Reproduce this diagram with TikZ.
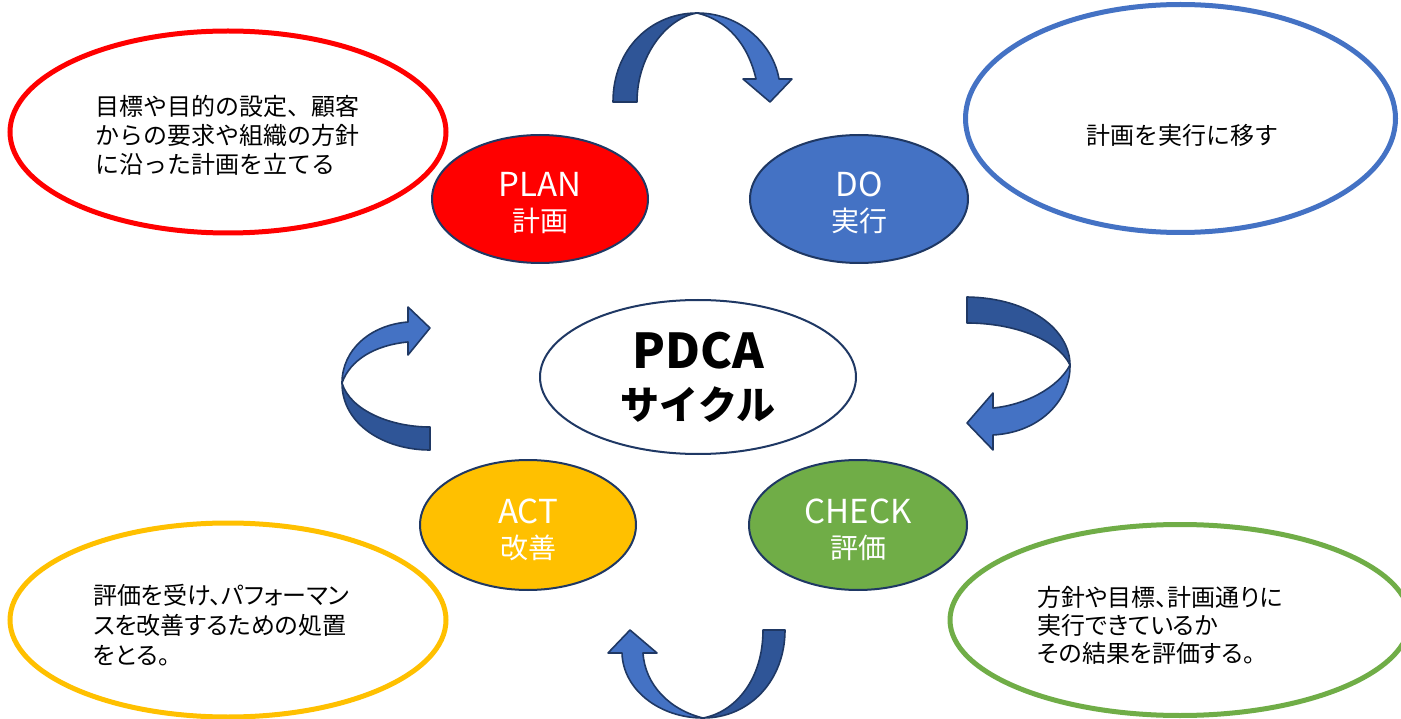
\documentclass[tikz,border=0pt]{standalone}
\usepackage{fontspec}
\setmainfont{Noto Sans CJK JP}
\newfontfamily\jpp[RawFeature=+palt]{Noto Sans CJK JP}
\usetikzlibrary{shapes.geometric}
\definecolor{navy}{HTML}{1F3864}
\definecolor{pblue}{HTML}{4472C4}
\definecolor{pdark}{HTML}{2F5597}
\definecolor{pyellow}{HTML}{FFC000}
\definecolor{pgreen}{HTML}{70AD47}
\definecolor{pred}{HTML}{FF0000}
\tikzset{
  descring/.style={ellipse, draw=#1, line width=5, fill=white, inner sep=0},
  stage/.style={ellipse, draw=navy, line width=2, fill=#1, inner sep=0},
  stagelabel/.style={text=white, align=center, inner sep=0, font=\fontsize{28}{35}\selectfont},
  desctext/.style={align=left, inner sep=0, anchor=west, font=\fontsize{24}{29}\selectfont},
  darkband/.style={fill=pdark, draw=navy, line width=1.6, line join=round},
  lightband/.style={fill=pblue, draw=navy, line width=1.6, line join=round},
}
\newcommand{\latinline}[1]{{\fontsize{33}{35}\selectfont #1}}
\newcommand{\cjkline}[1]{{\fontsize{28}{35}\selectfont #1}}
\begin{document}
\begin{tikzpicture}[x=1pt,y=-1pt]
\useasboundingbox (0,0) rectangle (1401,719);
% description ellipses
\node[descring=pred, minimum width=436, minimum height=202] (plandesc) at (228,132) {};
\node[descring=pblue, minimum width=430, minimum height=228] (dodesc) at (1180.5,118.5) {};
\node[descring=pyellow, minimum width=436, minimum height=194] (actdesc) at (228,620) {};
\node[descring=pgreen, minimum width=460, minimum height=191] (checkdesc) at (1180,620) {};
% description texts
\node[desctext] (plantext) at (95,135) {目標や目的の設定、顧客\\からの要求や組織の方針\\に沿った計画を立てる};
\node[inner sep=0, font=\fontsize{24}{29}\selectfont] (dotext) at (1182,135) {計画を実行に移す};
\node[desctext, font=\jpp\fontsize{24}{30}\selectfont] (acttext) at (93,625) {評価を受け、パフォーマン\\スを改善するための処置\\をとる。};
\node[desctext, font=\jpp\fontsize{24}{28}\selectfont] (checktext) at (1037,625) {方針や目標、計画通りに\\実行できているか\\その結果を評価する。};
% stage ellipses
\node[stage=pred, minimum width=216, minimum height=128] (plan) at (540,199) {};
\node[stage=pblue, minimum width=218, minimum height=128] (do) at (859,199) {};
\node[stage=pyellow, minimum width=216, minimum height=130] (act) at (528,525) {};
\node[stage=pgreen, minimum width=218, minimum height=130] (check) at (858,525) {};
\node[stagelabel] (planlabel) at (540,203) {\latinline{PLAN}\\\cjkline{計画}};
\node[stagelabel] (dolabel) at (859,203) {\latinline{DO}\\\cjkline{実行}};
\node[stagelabel] (actlabel) at (528,530) {\latinline{ACT}\\\cjkline{改善}};
\node[stagelabel] (checklabel) at (858,530) {\latinline{CHECK}\\\cjkline{評価}};
\node[ellipse, draw=navy, line width=2, fill=white, align=center, inner sep=0, minimum width=316, minimum height=154,
  font=\bfseries\fontsize{39}{51}\selectfont] (pdca) at (698,377)
  {{\fontsize{48}{51}\selectfont PDCA}\\サイクル};
% curved arrows
% top: PLAN -> DO
\draw[darkband] (613,102) .. controls (613,48) and (652,13) .. (697,13) .. controls (667,18) and (637,55) .. (637,102) -- cycle;
\draw[lightband] (697,13) .. controls (740,13) and (773,44) .. (779,79) -- (792,79) -- (770,102) -- (743,79) -- (756,79) .. controls (748,44) and (727,20) .. (697,13) -- cycle;
% right: DO -> CHECK
\draw[darkband] (967,297) .. controls (1030,298) and (1070,330) .. (1070,365) .. controls (1058,340) and (1015,323) .. (967,323) -- cycle;
\draw[lightband] (1070,365) .. controls (1071,395) and (1045,432) .. (993,435) -- (993,450) -- (967,423) -- (993,393) -- (993,408) .. controls (1025,405) and (1058,388) .. (1070,365) -- cycle;
% bottom: CHECK -> ACT
\draw[darkband] (785,630) .. controls (785,680) and (750,718) .. (703,718) .. controls (735,712) and (763,680) .. (763,630) -- cycle;
\draw[lightband] (703,718) .. controls (660,718) and (623,690) .. (622,653) -- (608,653) -- (630,630) -- (657,653) -- (643,653) .. controls (645,685) and (670,710) .. (703,718) -- cycle;
% left: ACT -> PLAN
\draw[darkband] (430,450) .. controls (385,450) and (342,425) .. (342,383) .. controls (350,410) and (390,427) .. (430,427) -- cycle;
\draw[lightband] (342,383) .. controls (342,350) and (370,325) .. (408,322) -- (408,307) -- (430,328) -- (408,355) -- (408,342) .. controls (375,345) and (350,360) .. (342,383) -- cycle;
\end{tikzpicture}
\end{document}
